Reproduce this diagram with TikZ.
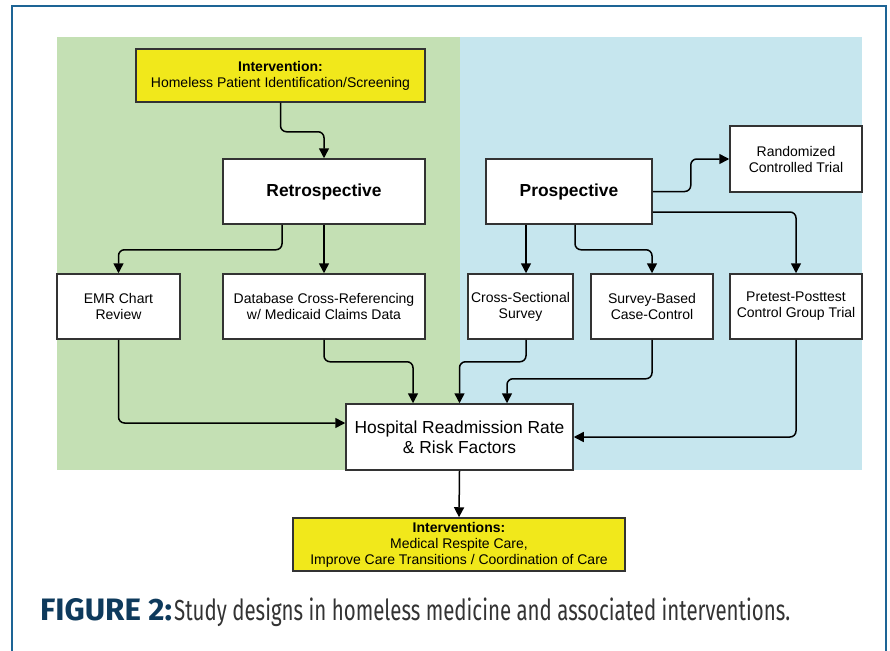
\documentclass[tikz,border=0pt]{standalone}
\usepackage{fontspec}
\setmainfont{Liberation Sans}
\newfontfamily\capfont{Fira Sans}
\usepackage{graphicx}
\usepackage{xcolor}
\usepackage{tikz}
\usetikzlibrary{arrows.meta}
\definecolor{retrogreen}{HTML}{C4E0B4}
\definecolor{prospblue}{HTML}{C6E6EE}
\definecolor{hiyellow}{HTML}{F1E81B}
\definecolor{frameblue}{HTML}{1D6495}
\definecolor{capnavy}{HTML}{0E3A5C}
\definecolor{boxgray}{HTML}{333333}
\begin{document}
\begin{tikzpicture}[x=1pt,y=-1pt,>={Triangle[length=10pt,width=10pt]},
    box/.style={draw=boxgray,line width=1.5pt,fill=white,align=center,inner sep=0pt,
        font=\fontsize{14}{16}\selectfont},
    yellowbox/.style={box,fill=hiyellow},
    headbox/.style={box,font=\fontsize{17.4}{20}\selectfont\bfseries},
    link/.style={->,line width=1.5pt,rounded corners=6pt}]
\clip (0,0) rectangle (890,650);
\fill[white] (0,0) rectangle (890,650);
\draw[frameblue,line width=2pt] (12,6) rectangle (886,700);
\fill[retrogreen] (57,37) rectangle (460,470);
\fill[prospblue] (460,37) rectangle (862,470);
\node[yellowbox,minimum width=289pt,minimum height=53pt] (intv) at (280.5,75.5) {\textbf{Intervention:}\\Homeless Patient Identification/Screening};
\node[headbox,minimum width=202pt,minimum height=65pt] (retro) at (324,191.5) {Retrospective};
\node[headbox,minimum width=166pt,minimum height=65pt] (prosp) at (569,191.5) {Prospective};
\node[box,minimum width=132pt,minimum height=66pt] (rct) at (796,159) {Randomized\\Controlled Trial};
\node[box,minimum width=123pt,minimum height=65pt] (emr) at (118.5,306.5) {EMR Chart\\Review};
\node[box,minimum width=202pt,minimum height=65pt] (db) at (324,306.5) {Database Cross-Referencing\\w/ Medicaid Claims Data};
\node[box,minimum width=105pt,minimum height=65pt] (cross) at (520.5,306.5) {Cross-Sectional\\Survey};
\node[box,minimum width=122pt,minimum height=65pt] (survey) at (652,306.5) {Survey-Based\\Case-Control};
\node[box,minimum width=132pt,minimum height=65pt] (pretest) at (796,306.5) {Pretest-Posttest\\Control Group Trial};
\node[box,font=\fontsize{17.4}{20}\selectfont,minimum width=227pt,minimum height=66pt] (hosp) at (459.5,437) {Hospital Readmission Rate\\\& Risk Factors};
\node[yellowbox,minimum width=332pt,minimum height=53pt] (outc) at (459,544.5) {\textbf{Interventions:}\\Medical Respite Care,\\Improve Care Transitions / Coordination of Care};
\draw[link] (intv.south) -- ++(0,29) -| (retro.north);
\draw[link] ([xshift=-42pt]retro.south) -- ++(0,25) -| (emr.north);
\draw[link] (retro.south) -- (db.north);
\draw[link] ([xshift=-43pt]prosp.south) -- ([xshift=-43pt]prosp.south |- cross.north);
\draw[link] ([xshift=6pt]prosp.south) -- ++(0,25) -| (survey.north);
\draw[link] ([yshift=-20.5pt]prosp.east) -| (pretest.north);
\draw[link] (prosp.east) -- ++(38,0) |- (rct.west);
\draw[link] (emr.south) |- ([yshift=14pt]hosp.west);
\draw[link] (db.south) -- ++(0,22) -| ([xshift=-46.5pt]hosp.north);
\draw[link] ([xshift=5.5pt]cross.south) -- ++(0,22) -| (hosp.north);
\draw[link] (survey.south) -- ++(0,39) -| ([xshift=47.5pt]hosp.north);
\draw[link] (pretest.south) |- (hosp.east);
\draw[link] (hosp.south) -- (outc.north);
\node[anchor=base west,inner sep=0pt,font=\capfont\bfseries\fontsize{31}{31}\selectfont,text=capnavy] (capnum) at (40,620) {\resizebox{132pt}{\height}{FIGURE 2:}};
\node[anchor=base west,inner sep=0pt,font=\capfont\fontsize{29}{29}\selectfont,text=boxgray] (captext) at (174,620) {\resizebox{616pt}{\height}{Study designs in homeless medicine and associated interventions.}};
\end{tikzpicture}
\end{document}
